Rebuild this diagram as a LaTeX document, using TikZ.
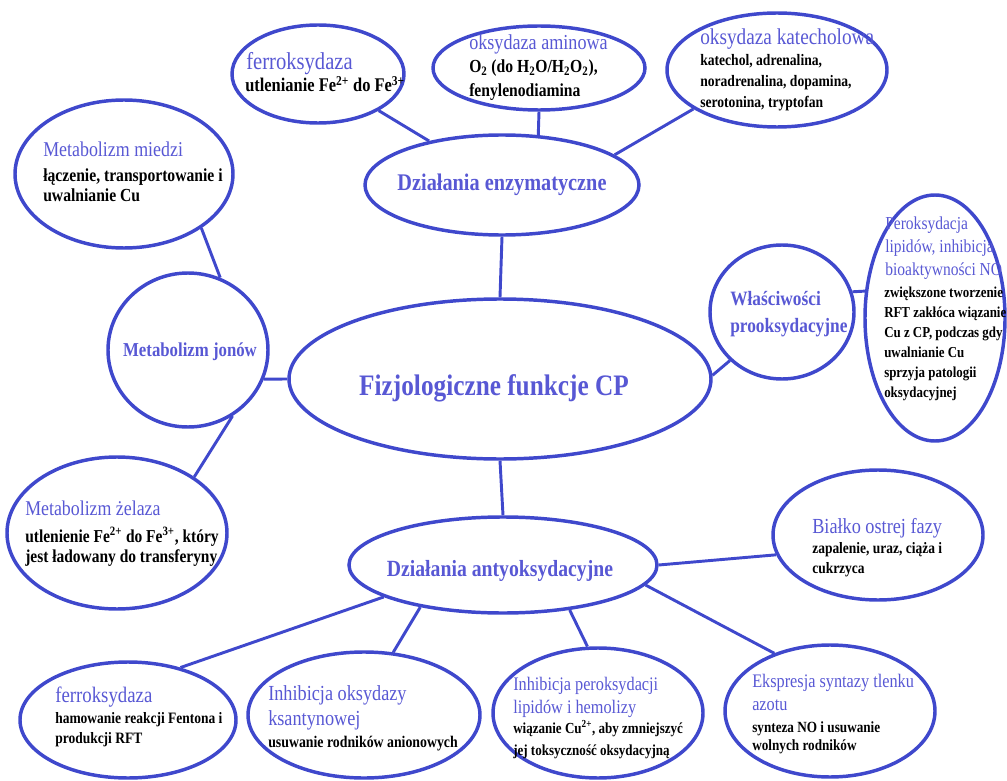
\documentclass[tikz,border=0pt]{standalone}
\usepackage{fontspec}
\setmainfont{Liberation Serif}[FakeStretch=0.85]
\usetikzlibrary{shapes.geometric}
\definecolor{lineblue}{RGB}{63,72,204}
\definecolor{titblue}{RGB}{88,88,212}

\begin{document}
\begin{tikzpicture}[x=0.75pt, y=-0.75pt,
    bub/.style 2 args={ellipse, draw=lineblue, line width=2.6pt, inner sep=0pt, minimum width=#1*0.75pt, minimum height=#2*0.75pt},
    link/.style={draw=lineblue, line width=2.2pt},
    ctr/.style 2 args={anchor=base, inner sep=0pt, text=titblue, font=\bfseries\fontsize{#1}{#2}\selectfont},
    tit/.style 2 args={anchor=base west, align=left, inner sep=0pt, text=titblue, font=\fontsize{#1}{#2}\selectfont},
    bod/.style 2 args={anchor=base west, align=left, inner sep=0pt, font=\bfseries\fontsize{#1}{#2}\selectfont}]
    \useasboundingbox (0,0) rectangle (1007,781);

    % Main bubbles (multi-line texts sit on their last baseline)
    \node[bub={422}{160}] (cp) at (500,379) {};
    \node[ctr={22.3}{27}] (cpt) at (494,395) {Fizjologiczne funkcje CP};
    \node[bub={274}{100}] (enz) at (502,185) {};
    \node[ctr={17.9}{21}] (enzt) at (502,191) {Działania enzymatyczne};
    \node[bub={308}{96}] (anty) at (503,565) {};
    \node[ctr={17.4}{21}] (antyt) at (500,576) {Działania antyoksydacyjne};
    \node[bub={160}{154}] (jon) at (188,350) {};
    \node[ctr={14.8}{18}] (jont) at (190,356) {Metabolizm jonów};
    \node[bub={144}{134}] (wlas) at (782,312) {};
    \node[ctr={15.3}{20.25}, anchor=base west, align=left] (wlast) at (730,332) {Właściwości\\prooksydacyjne};

    % Enzymatic side
    \node[bub={172}{98}] (ferA) at (318,74) {};
    \node[tit={18.2}{18}] (ferAt) at (246,70) {ferroksydaza};
    \node[bod={14.5}{15}] (ferAb) at (245,92) {utlenianie Fe\textsuperscript{2+} do Fe\textsuperscript{3+}};

    \node[bub={212}{84}] (amin) at (539,68) {};
    \node[tit={16}{17}] (amint) at (469,50) {oksydaza aminowa};
    \node[bod={13.8}{18}] (aminb) at (469,97) {O\textsubscript{2} (do H\textsubscript{2}O/H\textsubscript{2}O\textsubscript{2}),\\fenylenodiamina};

    \node[bub={220}{114}] (kat) at (777,70) {};
    \node[tit={17}{17}] (katt) at (700,45) {oksydaza katecholowa};
    \node[bod={12}{15.75}] (katb) at (700,108) {katechol, adrenalina,\\noradrenalina, dopamina,\\serotonina, tryptofan};

    % Ion metabolism
    \node[bub={218}{148}] (mied) at (124,174) {};
    \node[tit={15.8}{17}] (miedt) at (43,157) {Metabolizm miedzi};
    \node[bod={13.8}{15}] (miedb) at (43,202) {łączenie, transportowanie i\\uwalnianie Cu};

    \node[bub={220}{152}] (zel) at (117,533) {};
    \node[tit={15.75}{17}] (zelt) at (25,515) {Metabolizm żelaza};
    \node[bod={13.65}{15}] (zelb) at (25,562) {utlenienie Fe\textsuperscript{2+} do Fe\textsuperscript{3+}, który\\jest ładowany do transferyny};

    % Prooxidant side
    \node[bub={140}{246}] (perok) at (935,318) {};
    \node[tit={13.7}{17}] (perokt) at (885,275) {Peroksydacja\\lipidów, inhibicja\\bioaktywności NO};
    \node[bod={11.4}{15}] (perokb) at (884,397) {zwiększone tworzenie\\RFT zakłóca wiązanie\\Cu z CP, podczas gdy\\uwalnianie Cu\\sprzyja patologii\\oksydacyjnej};

    % Antioxidant side
    \node[bub={210}{130}] (bial) at (878,535) {};
    \node[tit={16.1}{17}] (bialt) at (812,533) {Białko ostrej fazy};
    \node[bod={11.9}{15}] (bialb) at (812,573) {zapalenie, uraz, ciąża i\\cukrzyca};

    \node[bub={216}{116}] (ferB) at (128,720) {};
    \node[tit={16.6}{17}] (ferBt) at (55,702) {ferroksydaza};
    \node[bod={11.9}{15}] (ferBb) at (55,743) {hamowanie reakcji Fentona i\\produkcji RFT};

    \node[bub={232}{126}] (ksan) at (364,715) {};
    \node[tit={16.1}{18.75}] (ksant) at (268,725) {Inhibicja oksydazy\\ksantynowej};
    \node[bod={12.2}{15}] (ksanb) at (268,747) {usuwanie rodników anionowych};

    \node[bub={210}{130}] (lip) at (598,713) {};
    \node[tit={14.35}{17.25}] (lipt) at (513,713) {Inhibicja peroksydacji\\lipidów i hemolizy};
    \node[bod={11.5}{16.5}] (lipb) at (513,755) {wiązanie Cu\textsuperscript{2+}, aby zmniejszyć\\jej toksyczność oksydacyjną};

    \node[bub={210}{132}] (eks) at (830,711) {};
    \node[tit={14.35}{17.25}] (ekst) at (752,710) {Ekspresja syntazy tlenku\\azotu};
    \node[bod={11.65}{13.5}] (eksb) at (752,750) {synteza NO i usuwanie\\wolnych rodników};

    % Connectors
    \draw[link] (ferA) -- (enz);
    \draw[link] (amin.south) -- (enz.54);
    \draw[link] (kat.205) -- (enz.15);
    \draw[link] (mied.-35) -- (jon.66);
    \draw[link] (jon.-56) -- (zel.36);
    \draw[link] (jon.-21) -- (cp.west);
    \draw[link] (enz.south) -- (cp.north);
    \draw[link] (cp.1) -- (wlas.223);
    \draw[link] (wlas.16) -- (perok.159);
    \draw[link] (cp.south) -- (anty.north);
    \draw[link] (anty.east) -- (bial.191);
    \draw[link] (anty.195) -- (ferB.45);
    \draw[link] (anty.207) -- (ksan.65);
    \draw[link] (anty.-34) -- (lip.99);
    \draw[link] (anty.-8) -- (eks.134);
\end{tikzpicture}
\end{document}
